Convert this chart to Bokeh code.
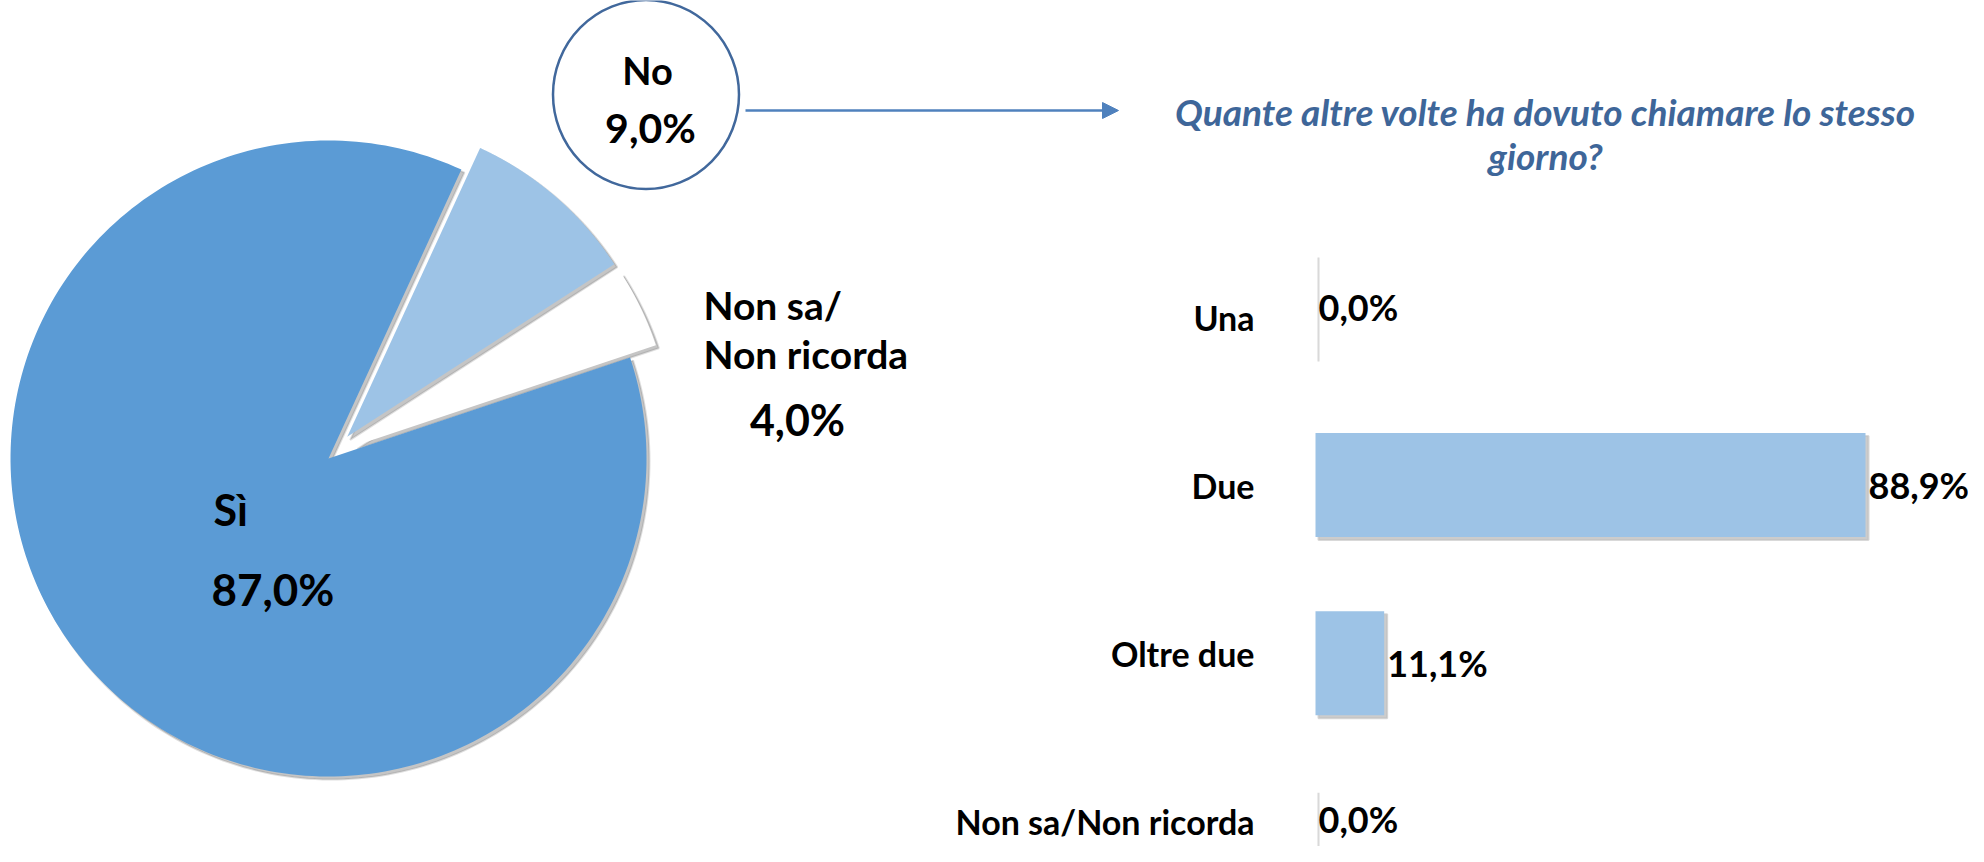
import numpy as np
from bokeh.plotting import figure
from bokeh.models import Range1d, Arrow, NormalHead
from bokeh.core.properties import value
from bokeh.embed import file_html
from bokeh.resources import INLINE

# ---------------- data ----------------
pie_labels = ["Sì", "No", "Non sa/\nNon ricorda"]
pie_values = [87.0, 9.0, 4.0]
pie_colors = ["#5B9BD5", "#9DC3E6", "#FFFFFF"]
pie_explode = [0.0, 0.09, 0.09]

bar_labels = ["Una", "Due", "Oltre due", "Non sa/Non ricorda"]
bar_values = [0.0, 88.9, 11.1, 0.0]

title_lines = ["Quante altre volte ha dovuto chiamare lo stesso", "giorno?"]


def fmt(v):
    return f"{v:.1f}%".replace(".", ",")


# ---------------- layout ----------------
W, H = 1968, 846
X0, Y0 = 0, 8
FONT = value("Lato")

p = figure(width=W, height=H, output_backend="svg", toolbar_location=None,
           x_range=Range1d(X0, X0 + W), y_range=Range1d(Y0 + H, Y0),
           min_border=0, outline_line_color=None,
           x_axis_location=None, y_axis_location=None)
p.grid.visible = False
p.background_fill_color = "white"
p.border_fill_color = "white"

SH = 3  # shadow offset in px
p.extra_x_ranges["sx"] = Range1d(X0 - SH, X0 + W - SH)
p.extra_y_ranges["sy"] = Range1d(Y0 + H - SH, Y0 - SH)

# bar scales
bar_x0 = 1315          # screen x of value 0
ppu = 550 / 88.9       # px per percent
first_c, spacing = 314, 178.4
bs = -(bar_x0 - X0) / ppu
be = bs + W / ppu
by_start = (Y0 + H - first_c) / spacing
by_end = (Y0 - first_c) / spacing
p.extra_x_ranges["bx"] = Range1d(bs, be)
p.extra_y_ranges["by"] = Range1d(by_start, by_end)
p.extra_x_ranges["bsx"] = Range1d(bs - SH / ppu, be - SH / ppu)
p.extra_y_ranges["bsy"] = Range1d(by_start - SH / spacing, by_end - SH / spacing)
# category label column (slightly tighter spacing than the bars)
lab_c, lab_sp = 325, 168.1
p.extra_y_ranges["ly"] = Range1d((Y0 + H - lab_c) / lab_sp, (Y0 - lab_c) / lab_sp)
bar_h = 104 / spacing

# ---------------- pie ----------------
cx, cy, R = 328, 466, 318
start_angle = 18.5
cum = 0.0
xs, ys = [], []
for v, e in zip(pie_values, pie_explode):
    a0 = start_angle - cum * 3.6
    a1 = a0 - v * 3.6
    mid = np.radians((a0 + a1) / 2)
    ox, oy = e * R * np.cos(mid), e * R * np.sin(mid)
    t = np.radians(np.linspace(a0, a1, 240))
    px = np.concatenate([[cx + ox], cx + ox + R * np.cos(t)])
    py = np.concatenate([[cy - oy], cy - oy - R * np.sin(t)])
    xs.append(px.tolist())
    ys.append(py.tolist())
    cum += v

p.patches(xs, ys, x_range_name="sx", y_range_name="sy",
          fill_color="#7f7f7f", fill_alpha=0.45, line_color="#7f7f7f", line_alpha=0.25, line_width=2)
p.patches(xs, ys, fill_color=pie_colors, line_color=None)

# pie labels: (x, baseline y, align, font px)
label_anchor = [(213, 517, "left", 43), (647, 77, "center", 38), (703, 312, "left", 39)]
value_anchor = [(211, 596, "left", 44), (650, 135, "center", 41), (797, 427, "center", 43)]
for lab, v, la, va in zip(pie_labels, pie_values, label_anchor, value_anchor):
    for k, line in enumerate(lab.split("\n")):
        p.text(x=[la[0]], y=[la[1] + k * 49], text=[line], text_align=la[2],
               text_baseline="alphabetic", text_font=FONT, text_font_style="bold",
               text_font_size=f"{la[3]}px", text_color="black")
    p.text(x=[va[0]], y=[va[1]], text=[fmt(v)], text_align=va[2],
           text_baseline="alphabetic", text_font=FONT, text_font_style="bold",
           text_font_size=f"{va[3]}px", text_color="black")

# callout circle and arrow
p.ellipse(x=[645.5], y=[102], width=186, height=189, fill_color=None,
          line_color="#41689C", line_width=2.5)
p.add_layout(Arrow(end=NormalHead(size=16, fill_color="#4F81BD", line_color="#4F81BD"),
                   x_start=745, y_start=118, x_end=1118, y_end=118,
                   line_color="#4F81BD", line_width=2.5))

# title
for k, line in enumerate(title_lines):
    p.text(x=[1545], y=[119 + k * 44], text=[line], text_align="center",
           text_baseline="alphabetic", text_font=FONT, text_font_style="bold italic",
           text_font_size="37px", text_color="#3E6699")

# ---------------- bars ----------------
idx = list(range(len(bar_labels)))
p.hbar(y=idx, left=0, right=bar_values, height=bar_h,
       x_range_name="bsx", y_range_name="bsy",
       fill_color="#7f7f7f", fill_alpha=0.4, line_color="#bfbfbf", line_alpha=0.6, line_width=2)
p.hbar(y=idx, left=0, right=bar_values, height=bar_h,
       x_range_name="bx", y_range_name="by",
       fill_color="#9DC3E6", line_color=None)

# value labels, kept inside the plot area (pushed up if they would cross the bottom edge)
label_half = 28
bottom_px = Y0 + H
val_y = []
for i in idx:
    c_px = first_c + i * spacing
    over = max(0.0, c_px + label_half - bottom_px)
    val_y.append(i - over / spacing)
p.text(x=bar_values, y=val_y, text=[fmt(v) for v in bar_values],
       x_range_name="bx", y_range_name="by", x_offset=3,
       text_align="left", text_baseline="middle", text_font=FONT,
       text_font_style="bold", text_font_size="36px", text_color="black")
p.text(x=[0] * len(bar_labels), y=idx, text=bar_labels,
       x_range_name="bx", y_range_name="ly", x_offset=-61,
       text_align="right", text_baseline="middle", text_font=FONT,
       text_font_style="bold", text_font_size="34px", text_color="black")

open("out.html", "w").write(file_html(p, INLINE))
